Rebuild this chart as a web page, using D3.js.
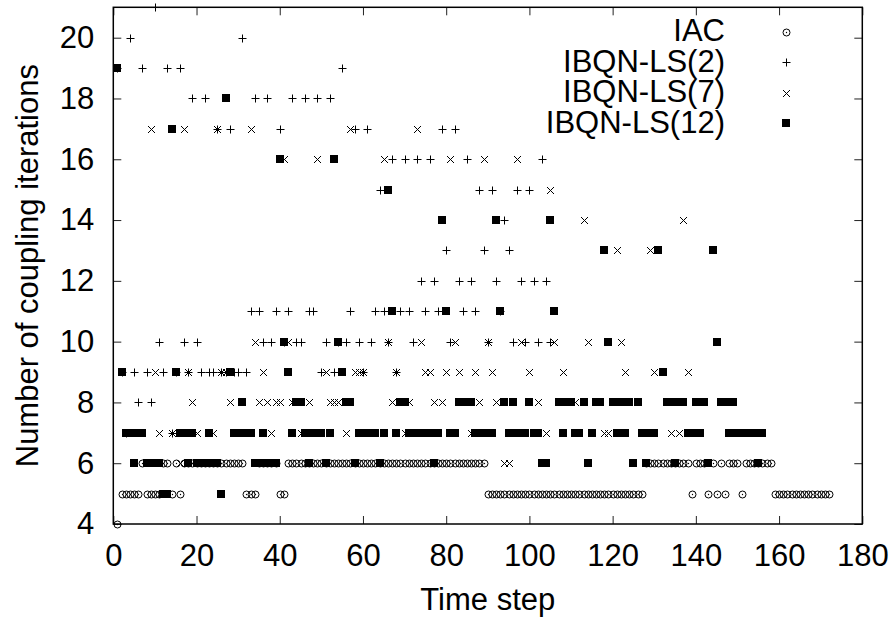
<!DOCTYPE html>
<html>
<head>
<meta charset="utf-8">
<script src="https://cdn.jsdelivr.net/npm/d3@7"></script>
<style>
    html, body { margin: 0; padding: 0; background: #fff; }
    svg text { font-family: "Liberation Sans", Arial, Helvetica, sans-serif; fill: #000; }
</style>
</head>
<body>
<svg id="chart" width="893" height="623"></svg>
<script>
// iterations per time step (index 0 = time step 1)
const iacIterations = [
    4, 5, 5, 5, 5, 5, 6, 5, 5, 5,
    5, 6, 6, 5, 6, 5, 6, 6, 6, 6,
    6, 6, 6, 6, 6, 6, 6, 6, 6, 6,
    6, 5, 5, 5, 6, 6, 6, 6, 6, 5,
    5, 6, 6, 6, 6, 6, 6, 6, 6, 6,
    6, 6, 6, 6, 6, 6, 6, 6, 6, 6,
    6, 6, 6, 6, 6, 6, 6, 6, 6, 6,
    6, 6, 6, 6, 6, 6, 6, 6, 6, 6,
    6, 6, 6, 6, 6, 6, 6, 6, 6, 5,
    5, 5, 5, 5, 5, 5, 5, 5, 5, 5,
    5, 5, 5, 5, 5, 5, 5, 5, 5, 5,
    5, 5, 5, 5, 5, 5, 5, 5, 5, 5,
    5, 5, 5, 5, 5, 5, 5, 6, 6, 6,
    6, 6, 6, 6, 6, 6, 6, 6, 5, 6,
    6, 6, 5, 6, 5, 6, 5, 6, 6, 6,
    5, 6, 6, 6, 6, 6, 6, 6, 5, 5,
    5, 5, 5, 5, 5, 5, 5, 5, 5, 5,
    5, 5,
];

const ls2Iterations = [
    19, 9, 7, 20, 9, 8, 19, 9, 8, 21,
    10, 9, 19, 7, 9, 19, 10, 9, 18, 10,
    9, 18, 9, 9, 17, 9, 9, 17, 9, 9,
    20, 9, 11, 18, 11, 10, 18, 10, 11, 17,
    10, 11, 18, 10, 10, 18, 11, 11, 18, 9,
    10, 18, 9, 10, 19, 10, 11, 17, 10, 9,
    17, 10, 11, 15, 11, 10, 16, 9, 11, 16,
    11, 10, 16, 12, 11, 16, 12, 11, 17, 13,
    10, 17, 12, 11, 16, 12, 11, 15, 13, 10,
    15, 12, 11, 14, 13, 10, 15, 12, 10, 15,
    12, 10, 16, 12, 10,
];

const ls7Iterations = [
    19, 9, 7, 7, 6, 7, 7, 6, 17, 9,
    7, 5, 5, 7, 9, 6, 17, 9, 8, 7,
    6, 6, 7, 7, 17, 9, 9, 8, 7, 7,
    8, 7, 17, 10, 8, 9, 8, 7, 8, 8,
    16, 10, 8, 8, 7, 7, 8, 7, 16, 7,
    9, 8, 8, 8, 9, 7, 17, 9, 9, 9,
    7, 7, 7, 6, 16, 10, 8, 9, 8, 7,
    8, 7, 17, 10, 9, 9, 8, 7, 8, 9,
    16, 10, 9, 8, 8, 7, 9, 8, 16, 10,
    9, 8, 11, 6, 6, 8, 16, 10, 7, 9,
    7, 8, 6, 7, 15, 10, 8, 9, 8, 8,
    8, 7, 14, 10, 7, 8, 8, 7, 7, 8,
    13, 10, 9, 8, 6, 8, 7, 6, 13, 9,
    13, 9, 8, 7, 6, 7, 14, 9, 7, 8,
    7, 8, 6,
];

const ls12Iterations = [
    19, 9, 7, 7, 6, 7, 7, 6, 6, 6,
    6, 5, 5, 17, 9, 7, 7, 6, 7, 6,
    6, 6, 7, 6, 6, 5, 18, 9, 7, 7,
    8, 7, 7, 6, 6, 7, 6, 6, 6, 16,
    10, 9, 7, 8, 8, 7, 6, 7, 7, 7,
    6, 7, 16, 10, 9, 8, 8, 6, 7, 7,
    7, 7, 7, 6, 7, 15, 11, 7, 8, 8,
    7, 7, 7, 7, 7, 7, 6, 7, 14, 11,
    7, 7, 8, 8, 8, 8, 7, 7, 7, 7,
    7, 14, 11, 8, 7, 8, 7, 7, 7, 8,
    7, 7, 6, 6, 14, 11, 8, 7, 8, 8,
    7, 7, 8, 6, 7, 8, 8, 13, 10, 8,
    7, 8, 7, 8, 6, 8, 7, 6, 7, 7,
    13, 9, 8, 8, 6, 8, 8, 7, 7, 8,
    7, 8, 6, 13, 10, 8, 8, 7, 8, 7,
    7, 7, 7, 7, 6, 7,
];

const seriesNames = ["IAC", "IBQN-LS(2)", "IBQN-LS(7)", "IBQN-LS(12)"];
const seriesShapes = ["circle", "plus", "cross", "square"];
const timeStepTicks = [0, 20, 40, 60, 80, 100, 120, 140, 160, 180];
const iterationTicks = [4, 6, 8, 10, 12, 14, 16, 18, 20];

const SERIES = [iacIterations, ls2Iterations, ls7Iterations, ls12Iterations].map((values, i) => ({
    name: seriesNames[i],
    shape: seriesShapes[i],
    points: values.map((v, k) => ({ step: k + 1, value: v })),
}));

document.addEventListener("DOMContentLoaded", () => {
    const svg = d3.select("#chart");
    const left = 113.3, right = 862.3, top = 7.3, bottom = 524;
    const fontSize = 31;

    const x = d3.scaleLinear().domain([0, 180]).range([left, right]);
    const y = d3.scaleLinear().domain([4, 21]).range([bottom, top]);

    // gnuplot style point glyphs, snapped to whole pixels
    function markPath(shape, cx, cy) {
        const px = Math.round(cx) + 0.5;
        const py = Math.round(cy) + 0.5;
        if (shape === "plus") return `M${px - 4},${py}H${px + 4}M${px},${py - 4}V${py + 4}`;
        if (shape === "cross") return `M${px - 3.5},${py - 3.5}L${px + 3.5},${py + 3.5}M${px - 3.5},${py + 3.5}L${px + 3.5},${py - 3.5}`;
        return "";
    }

    function drawMark(g, shape, cx, cy) {
        if (shape === "circle") {
            const px = Math.round(cx) + 0.5, py = Math.round(cy) + 0.5;
            g.append("circle").attr("cx", px).attr("cy", py).attr("r", 3.5)
                .attr("fill", "none").attr("stroke", "#000").attr("stroke-width", 1);
            g.append("circle").attr("cx", px).attr("cy", py).attr("r", 0.7).attr("fill", "#000");
        } else if (shape === "square") {
            g.append("rect")
                .attr("x", Math.round(cx) - 4).attr("y", Math.round(cy) - 4)
                .attr("width", 8).attr("height", 8).attr("fill", "#000");
        } else {
            g.append("path").attr("d", markPath(shape, cx, cy))
                .attr("fill", "none").attr("stroke", "#000").attr("stroke-width", 1);
        }
    }

    // ticks, mirrored on all four sides and pointing inward
    const axes = [
        { axis: d3.axisBottom(x).tickValues(timeStepTicks).tickSize(-8).tickPadding(20), at: `translate(0,${bottom})` },
        { axis: d3.axisTop(x).tickValues(timeStepTicks).tickSize(-8).tickFormat(""), at: `translate(0,${top})` },
        { axis: d3.axisLeft(y).tickValues(iterationTicks).tickSize(-8).tickPadding(19), at: `translate(${left},0)` },
        { axis: d3.axisRight(y).tickValues(iterationTicks).tickSize(-8).tickFormat(""), at: `translate(${right},0)` },
    ];

    axes.forEach(({ axis, at }) => {
        const g = svg.append("g").attr("transform", at).call(axis.tickSizeOuter(0));
        g.select(".domain").remove();
        g.selectAll(".tick line").attr("stroke", "#222").attr("stroke-width", 1);
        g.selectAll(".tick text").attr("font-size", fontSize).attr("font-family", null).attr("fill", "#000");
    });

    svg.append("rect")
        .attr("x", left).attr("y", top)
        .attr("width", right - left).attr("height", bottom - top)
        .attr("fill", "none").attr("stroke", "#000").attr("stroke-width", 1.5);

    const plot = svg.append("g").attr("class", "points");
    SERIES.forEach((s) => {
        const g = plot.append("g").attr("class", s.shape);
        s.points.forEach((p) => drawMark(g, s.shape, x(p.step), y(p.value)));
    });

    // legend, top right inside the frame
    const legend = svg.append("g").attr("class", "legend");
    SERIES.forEach((s, i) => {
        legend.append("text")
            .attr("x", 725).attr("y", 41 + i * 30.5)
            .attr("text-anchor", "end").attr("font-size", fontSize)
            .text(s.name);
        drawMark(legend, s.shape, 786, 31.5 + i * 30.5);
    });

    svg.append("text")
        .attr("x", (left + right) / 2).attr("y", 610)
        .attr("text-anchor", "middle").attr("font-size", fontSize)
        .text("Time step");

    svg.append("text")
        .attr("transform", `translate(38,${(top + bottom) / 2}) rotate(-90)`)
        .attr("text-anchor", "middle").attr("font-size", fontSize)
        .text("Number of coupling iterations");
});
</script>
</body>
</html>
